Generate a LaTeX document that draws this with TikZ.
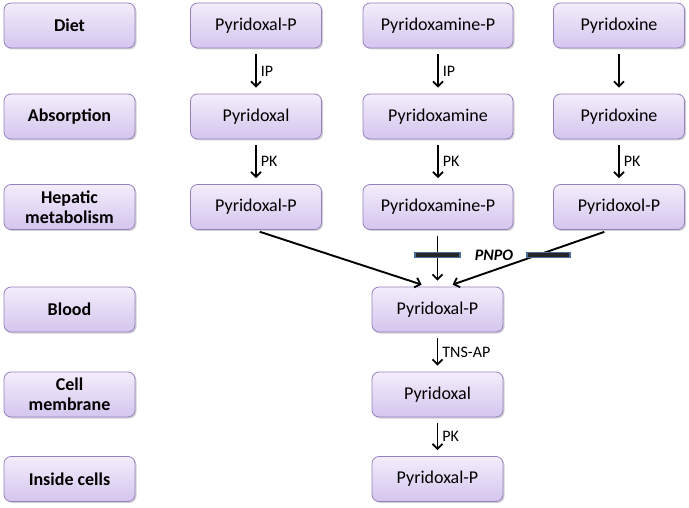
\documentclass[tikz,border=0pt]{standalone}
\usepackage{fontspec}
\setmainfont{Carlito}
\usetikzlibrary{arrows.meta,calc,shadows}
\definecolor{BoxTopClr}{RGB}{243,237,251}
\definecolor{BoxBotClr}{RGB}{212,197,238}
\definecolor{BoxLineClr}{RGB}{150,128,190}
\definecolor{BarClr}{RGB}{79,109,154}

\tikzset{
  box/.style={rectangle,rounded corners=7pt,draw=BoxLineClr,line width=0.8pt,
    top color=BoxTopClr,bottom color=BoxBotClr,
    drop shadow={shadow xshift=1.5pt,shadow yshift=-1.5pt,fill=black!35,opacity=.5},
    minimum width=131pt,minimum height=45pt,align=center,font=\fontsize{18}{20}\selectfont},
  stagebox/.style={box,font=\fontsize{18}{20}\selectfont\bfseries},
  widebox/.style={box,minimum width=150pt},
  flow/.style={-{Straight Barb[length=5pt,width=10pt,line width=1.8pt]},line width=1.9pt,shorten <=6pt,shorten >=6pt},
  enz/.style={right,font=\fontsize{16}{18}\selectfont,inner sep=4pt},
  bar/.style={draw=BarClr,fill=black!85,line width=1.4pt}
}

\begin{document}
\begin{tikzpicture}[x=1pt,y=-1pt]
\useasboundingbox (0,0) rectangle (689,508);

% stages
\node[stagebox] (diet) at (69.5,25.5) {Diet};
\node[stagebox] (abs)  at (69.5,116.5) {Absorption};
\node[stagebox] (hep)  at (69.5,207) {Hepatic\\metabolism};
\node[stagebox] (blood) at (69.5,309.5) {Blood};
\node[stagebox] (cell) at (69.5,394.5) {Cell\\membrane};
\node[stagebox] (ins)  at (69.5,479) {Inside cells};

% vitamers
\node[box] (pl1) at (256,25.5) {Pyridoxal-P};
\node[box] (pl2) at (256,116.5) {Pyridoxal};
\node[box] (pl3) at (256,207) {Pyridoxal-P};
\node[widebox] (pm1) at (438,25.5) {Pyridoxamine-P};
\node[widebox] (pm2) at (438,116.5) {Pyridoxamine};
\node[widebox] (pm3) at (438,207) {Pyridoxamine-P};
\node[box] (pn1) at (619,25.5) {Pyridoxine};
\node[box] (pn2) at (619,116.5) {Pyridoxine};
\node[box] (pn3) at (619,207) {Pyridoxol-P};

\node[box] (plp) at (437.5,309.5) {Pyridoxal-P};
\node[box] (pl)  at (437.5,394.5) {Pyridoxal};
\node[box] (plpin) at (437.5,479) {Pyridoxal-P};

\draw[flow] (pl1) -- node[enz]{IP} (pl2);
\draw[flow] (pl2) -- node[enz]{PK} (pl3);
\draw[flow] (pm1) -- node[enz]{IP} (pm2);
\draw[flow] (pm2) -- node[enz]{PK} (pm3);
\draw[flow] (pn1) -- (pn2);
\draw[flow] (pn2) -- node[enz]{PK} (pn3);

% PNPO step
\coordinate (inL) at ($(plp.north west)+(50,-2)$);
\coordinate (inR) at ($(plp.north west)+(81,-2)$);
\draw[flow,shorten >=0pt] ($(pl3.south)+(-2,0)$) -- (inL);
\draw[flow] (pm3.south -| plp.north) -- (plp.north);
\draw[flow,shorten >=0pt] ($(pn3.south)+(-9,0)$) -- (inR);
\draw[bar] (415,252.5) rectangle (460,257.5);
\draw[bar] (527,252.5) rectangle (570,257.5);
\node[font=\fontsize{16}{18}\selectfont\bfseries\itshape] (pnpo) at (494,255) {PNPO};

\draw[flow] (plp) -- node[enz]{TNS-AP} (pl);
\draw[flow] (pl) -- node[enz]{PK} (plpin);
\end{tikzpicture}
\end{document}
